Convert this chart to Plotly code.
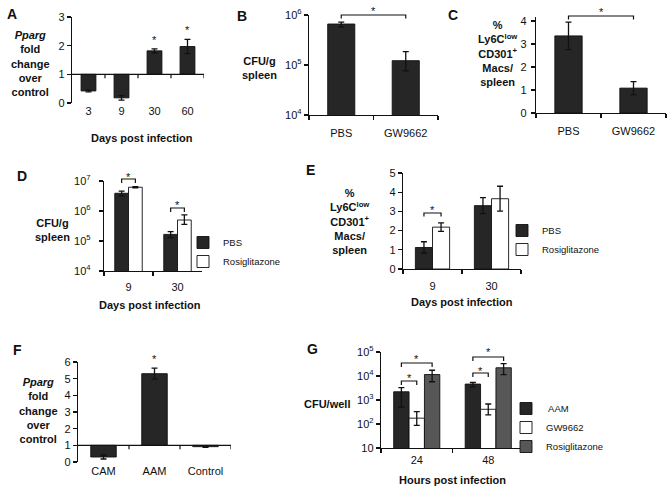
import plotly.graph_objects as go

W, H = 672, 492

# ---------------- data ----------------
a_days = ["3", "9", "30", "60"]
a_fold = [0.42, 0.18, 1.82, 1.97]
a_err = [0.03, 0.08, 0.07, 0.25]
a_sig = [False, False, True, True]

b_groups = ["PBS", "GW9662"]
b_cfu = [6.6e5, 1.22e5]
b_err_plus = [0.6e5, 0.63e5]
b_err_minus = [0.8e5, 0.46e5]

c_groups = ["PBS", "GW9662"]
c_pct = [3.35, 1.08]
c_err = [0.6, 0.28]

d_days = ["9", "30"]
d_pbs = [3.9e6, 1.66e5]
d_pbs_plus = [0.7e6, 0.39e5]
d_pbs_minus = [0.7e6, 0.37e5]
d_rosi = [6.2e6, 5.0e5]
d_rosi_plus = [0.3e6, 2.4e5]
d_rosi_minus = [0.3e6, 1.4e5]

e_days = ["9", "30"]
e_pbs = [1.12, 3.3]
e_pbs_err = [0.3, 0.42]
e_rosi = [2.18, 3.66]
e_rosi_err = [0.22, 0.65]

f_cells = ["CAM", "AAM", "Control"]
f_fold = [0.3, 5.3, 0.92]
f_err = [0.12, 0.33, 0.04]
f_sig = [False, True, False]

g_hours = ["24", "48"]
g_aam = [2200, 4600]
g_aam_plus = [1100, 770]
g_aam_minus = [1700, 1050]
g_gw = [175, 410]
g_gw_plus = [155, 270]
g_gw_minus = [88, 170]
g_rosi = [11500, 22000]
g_rosi_plus = [5900, 11000]
g_rosi_minus = [5750, 10500]

b_ytickvals = [1e4, 1e5, 1e6]
b_yticktext = ["10<sup>4</sup>", "10<sup>5</sup>", "10<sup>6</sup>"]
d_ytickvals = [1e4, 1e5, 1e6, 1e7]
d_yticktext = ["10<sup>4</sup>", "10<sup>5</sup>", "10<sup>6</sup>", "10<sup>7</sup>"]
g_ytickvals = [10, 1e2, 1e3, 1e4, 1e5]
g_yticktext = ["10", "10<sup>2</sup>", "10<sup>3</sup>", "10<sup>4</sup>", "10<sup>5</sup>"]

# ---------------- style ----------------
FONT = "Liberation Sans, Arial, sans-serif"
INK = "#111111"
DARK = "#262626"
MID = "#575757"
WHITE = "#ffffff"
TICKFONT = dict(family=FONT, size=11, color=INK)


def xdom(l, r):
    return [l / W, r / W]


def ydom(t, b):
    return [1 - b / H, 1 - t / H]


def px(x):
    return x / W


def py(y):
    return 1 - y / H


# panel geometry in pixels: (left, right, top, bottom)
P = {
    "A": (72, 204, 17, 103),
    "B": (309, 438, 15, 115),
    "C": (536, 666, 17, 113),
    "D": (104, 202, 181, 271),
    "E": (403, 521, 173, 269),
    "F": (78, 231, 362, 462),
    "G": (381, 524, 352, 448),
}
AX = {"A": "", "B": "2", "C": "3", "D": "4", "E": "5", "F": "6", "G": "7"}


def xaxis_for(p, n, line=True, standoff=0):
    l, r, t, b = P[p]
    return dict(domain=xdom(l, r), anchor="y" + AX[p], type="category",
                range=[-0.5, n - 0.5], autorange=False, automargin=False,
                showline=line, linecolor=INK, linewidth=1.2,
                ticks="outside" if line else "", tickson="boundaries",
                ticklen=4, tickwidth=1.2, tickcolor=INK, showgrid=False,
                zeroline=False, tickfont=TICKFONT, fixedrange=True,
                ticklabelstandoff=standoff)


def yaxis_for(p, rng, log=False, standoff=0, **kw):
    l, r, t, b = P[p]
    d = dict(domain=ydom(t, b), anchor="x" + AX[p], range=rng, autorange=False,
             automargin=False, type="log" if log else "linear",
             showline=True, linecolor=INK, linewidth=1.2, ticks="outside",
             ticklen=4, tickwidth=1.2, tickcolor=INK, showgrid=False,
             zeroline=False, tickfont=TICKFONT, fixedrange=True,
             ticklabelstandoff=standoff)
    d.update(kw)
    return d


def err(arr, minus=None):
    d = dict(type="data", array=arr, color=INK, thickness=1.3, width=3, visible=True)
    if minus is not None:
        d["symmetric"] = False
        d["arrayminus"] = minus
    return d


def bar(p, x, y, color, **kw):
    return go.Bar(x=x, y=y, xaxis="x" + AX[p], yaxis="y" + AX[p],
                  marker=dict(color=color, line=dict(color=INK, width=0.9)),
                  **kw)


fig = go.Figure()

# A
fig.add_trace(bar("A", a_days, [v - 1 for v in a_fold], DARK, base=1, width=0.45,
                  error_y=err(a_err), showlegend=False))
# B
fig.add_trace(bar("B", b_groups, b_cfu, DARK, width=0.42,
                  error_y=err(b_err_plus, b_err_minus), showlegend=False))
# C
fig.add_trace(bar("C", c_groups, c_pct, DARK, width=0.42,
                  error_y=err(c_err), showlegend=False))
# D
DW = 0.28
fig.add_trace(bar("D", d_days, d_pbs, DARK, offset=-DW, width=DW, name="PBS",
                  error_y=err(d_pbs_plus, d_pbs_minus), legend="legend"))
fig.add_trace(bar("D", d_days, d_rosi, WHITE, offset=0, width=DW, name="Rosiglitazone",
                  error_y=err(d_rosi_plus, d_rosi_minus), legend="legend"))
# E
EW = 0.29
fig.add_trace(bar("E", e_days, e_pbs, DARK, offset=-EW, width=EW, name="PBS",
                  error_y=err(e_pbs_err), legend="legend2"))
fig.add_trace(bar("E", e_days, e_rosi, WHITE, offset=0, width=EW, name="Rosiglitazone",
                  error_y=err(e_rosi_err), legend="legend2"))
# F
fig.add_trace(bar("F", f_cells, [v - 1 for v in f_fold], DARK, base=1, width=0.5,
                  error_y=err(f_err), showlegend=False))
# G
GW_ = 0.215
g_off = [-1.5 * GW_, -0.5 * GW_, 0.5 * GW_]
fig.add_trace(bar("G", g_hours, g_aam, DARK, offset=g_off[0], width=GW_, name=" AAM",
                  error_y=err(g_aam_plus, g_aam_minus), legend="legend3"))
fig.add_trace(bar("G", g_hours, g_gw, WHITE, offset=g_off[1], width=GW_, name="GW9662",
                  error_y=err(g_gw_plus, g_gw_minus), legend="legend3"))
fig.add_trace(bar("G", g_hours, g_rosi, MID, offset=g_off[2], width=GW_, name="Rosiglitazone",
                  error_y=err(g_rosi_plus, g_rosi_minus), legend="legend3"))

shapes = []
annotations = []


def dom_frac(p, ypx):
    l, r, t, b = P[p]
    return (b - ypx) / (b - t)


def bracket(p, x0, x1, ypx, endpx, astpx):
    xr = "x" + AX[p]
    yr = "y" + AX[p] + " domain"
    y = dom_frac(p, ypx)
    ye = dom_frac(p, endpx)
    shapes.append(dict(type="path", xref=xr, yref=yr,
                       path=f"M{x0},{ye} L{x0},{y} L{x1},{y} L{x1},{ye}",
                       line=dict(color=INK, width=1.2)))
    annotations.append(dict(text="*", xref=xr, yref=yr, x=(x0 + x1) / 2,
                            y=dom_frac(p, astpx + 2.5), yanchor="middle",
                            showarrow=False, font=dict(family=FONT, size=11, color=INK)))


def baseline(p, n):
    xr = "x" + AX[p]
    yr = "y" + AX[p]
    shapes.append(dict(type="line", xref=xr, yref=yr, x0=-0.5, x1=n - 0.5, y0=1, y1=1,
                       line=dict(color=INK, width=1.2)))
    for k in range(n):
        shapes.append(dict(type="line", xref=xr, yref=yr, x0=k + 0.5, x1=k + 0.5,
                           ysizemode="pixel", yanchor=1, y0=0, y1=-4,
                           line=dict(color=INK, width=1.2)))


def star_above(p, vals, errs, sig):
    for i, (v, e, s) in enumerate(zip(vals, errs, sig)):
        if s:
            annotations.append(dict(text="*", xref="x" + AX[p], yref="y" + AX[p], x=i,
                                    y=v + e, yanchor="bottom", yshift=1, showarrow=False,
                                    font=dict(family=FONT, size=11, color=INK)))


baseline("A", len(a_days))
baseline("F", len(f_cells))
star_above("A", a_fold, a_err, a_sig)
star_above("F", f_fold, f_err, f_sig)

bracket("B", 0, 1, 15, 18.5, 8.5)
bracket("C", 0, 1, 16, 19.5, 10)
bracket("D", -DW / 2, DW / 2, 179, 183, 174)
bracket("D", 1 - DW / 2, 1 + DW / 2, 208, 212, 202)
bracket("E", -EW / 2, EW / 2, 213, 216.5, 207)
gc = [o + GW_ / 2 for o in g_off]
bracket("G", gc[0], gc[1], 381, 385, 375)
bracket("G", gc[0], gc[2], 363, 367, 356)
bracket("G", 1 + gc[0], 1 + gc[1], 373, 377, 368)
bracket("G", 1 + gc[0], 1 + gc[2], 357, 361, 349)


def ptext(text, x, y, size=11, xanchor="center", yanchor="middle", align="center"):
    annotations.append(dict(text=text, xref="paper", yref="paper", x=px(x), y=py(y),
                            xanchor=xanchor, yanchor=yanchor, align=align, showarrow=False,
                            font=dict(family=FONT, size=size, color=INK)))


# panel letters
for letter, (lx, ly) in {"A": (12, 14), "B": (242, 16), "C": (453, 15), "D": (22, 176),
                         "E": (310, 170), "F": (17, 350), "G": (312, 349)}.items():
    ptext(f"<b>{letter}</b>", lx, ly, size=14)

pparg_title = "<b><i>Pparg</i><br>fold<br>change<br>over<br>control</b>"
macs_title = "<b>%<br>Ly6C<sup>low</sup><br>CD301<sup>+</sup><br>Macs/<br>spleen</b>"
cfu_title = "<b>CFU/g<br>spleen</b>"

ptext(pparg_title, 30, 63)
ptext(cfu_title, 259, 68)
ptext(macs_title, 498, 54)
ptext(cfu_title, 52, 230)
ptext(macs_title, 350, 222)
ptext(pparg_title, 38, 410)
ptext("<b>CFU/well</b>", 327, 404)

ptext("<b>Days post infection</b>", 142, 138)
ptext("<b>Days post infection</b>", 150, 305)
ptext("<b>Days post infection</b>", 462, 302)
ptext("<b>Hours post infection</b>", 452, 480)

legend_style = dict(xanchor="left", yanchor="top", bgcolor="rgba(0,0,0,0)",
                    font=dict(family=FONT, size=9.5, color=INK), tracegroupgap=0,
                    itemwidth=30, borderwidth=0)

fig.update_layout(
    template="none",
    width=W, height=H, margin=dict(l=0, r=0, t=0, b=0, pad=0, autoexpand=False),
    paper_bgcolor="white", plot_bgcolor="white",
    font=dict(family=FONT, color=INK),
    barmode="group", showlegend=True,
    xaxis=xaxis_for("A", len(a_days), line=False),
    yaxis=yaxis_for("A", [0, 3], tickvals=[0, 1, 2, 3]),
    xaxis2=xaxis_for("B", len(b_groups), standoff=8),
    yaxis2=yaxis_for("B", [4, 6], log=True, tickmode="array", tickvals=b_ytickvals,
                     ticktext=b_yticktext),
    xaxis3=xaxis_for("C", len(c_groups), standoff=8),
    yaxis3=yaxis_for("C", [0, 4.17], tickvals=[0, 1, 2, 3, 4], standoff=2),
    xaxis4=xaxis_for("D", len(d_days), standoff=6),
    yaxis4=yaxis_for("D", [4, 7], log=True, standoff=6, tickmode="array",
                     tickvals=d_ytickvals, ticktext=d_yticktext),
    xaxis5=xaxis_for("E", len(e_days), standoff=7),
    yaxis5=yaxis_for("E", [0, 5], tickvals=[0, 1, 2, 3, 4, 5]),
    xaxis6=xaxis_for("F", len(f_cells), line=False, standoff=1),
    yaxis6=yaxis_for("F", [0, 6], tickvals=[0, 1, 2, 3, 4, 5, 6]),
    xaxis7=xaxis_for("G", len(g_hours), standoff=2),
    yaxis7=yaxis_for("G", [1, 5], log=True, tickmode="array", tickvals=g_ytickvals,
                     ticktext=g_yticktext),
    legend=dict(x=px(183), y=py(228), **legend_style),
    legend2=dict(x=px(502), y=py(216), **legend_style),
    legend3=dict(x=px(506), y=py(394), **legend_style),
    shapes=shapes,
    annotations=annotations,
)

fig.write_html(
    "out.html",
    config={"displayModeBar": False, "staticPlot": True},
    post_script="document.body.style.margin='0';document.body.style.overflow='hidden';",
)
